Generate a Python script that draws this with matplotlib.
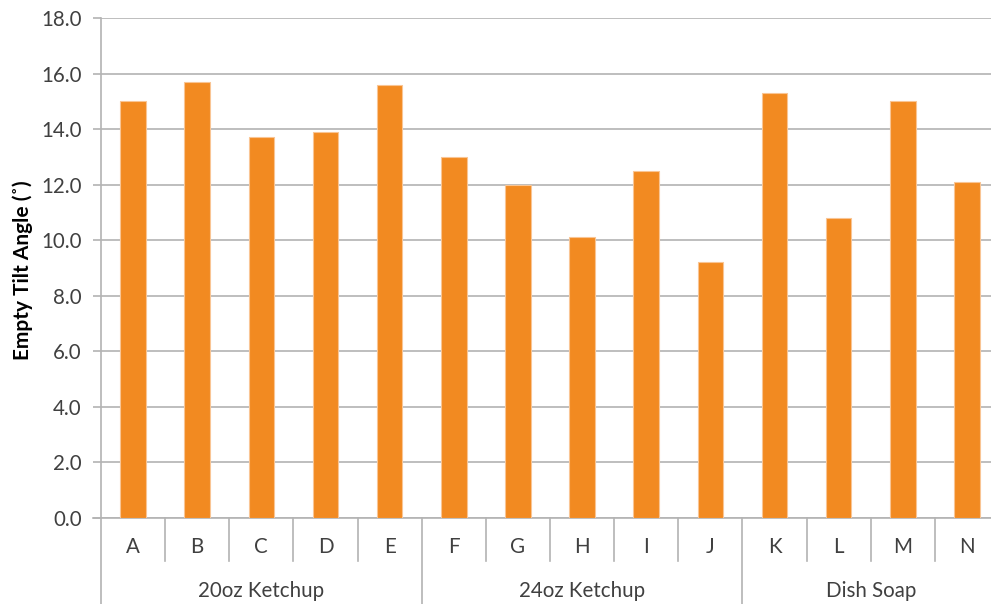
import matplotlib
matplotlib.use("Agg")
import matplotlib.pyplot as plt

# Data
labels = ["A", "B", "C", "D", "E", "F", "G", "H", "I", "J", "K", "L", "M", "N"]
values = [15.0, 15.7, 13.7, 13.9, 15.6, 13.0, 12.0, 10.1, 12.5, 9.2, 15.3, 10.8, 15.0, 12.1]
groups = ["20oz Ketchup", "24oz Ketchup", "Dish Soap"]
group_sizes = [5, 5, 4]

plt.rcParams["font.family"] = ["Lato", "DejaVu Sans"]

bar_color = "#F28A21"
line_color = "#B3B3B3"
text_color = "#404040"
fs = 14.8

fig = plt.figure(figsize=(9.91, 6.04), dpi=100, facecolor="white")
# axes runs a little past the right edge, as in the cropped original
ax = fig.add_axes([101 / 991, 1 - 518 / 604, 898 / 991, 500 / 604])

x = list(range(len(labels)))
ax.bar(x, values, width=0.4, color=bar_color, edgecolor="#F9C594", linewidth=0.8, zorder=3)

ax.set_xlim(-0.5, len(labels) - 0.5)
ax.set_ylim(0, 18)
ax.set_yticks([i * 2 for i in range(10)])
ax.set_yticklabels(["%.1f" % (i * 2) for i in range(10)], fontsize=fs, color=text_color)
ax.yaxis.grid(True, color=line_color, linewidth=1.2, zorder=0)
ax.tick_params(axis="y", length=6, width=1.2, color=line_color, pad=8)
ax.set_xticks([])

for side in ["top", "right", "bottom"]:
    ax.spines[side].set_visible(False)
ax.spines["left"].set_color(line_color)
ax.spines["left"].set_linewidth(1.2)

ax.set_ylabel("Empty Tilt Angle (˚)", fontsize=15, fontweight="bold")
ax.yaxis.set_label_coords(-0.076, 0.496)

trans = ax.get_xaxis_transform()
# category axis line, sticking out a bit on the left
ax.plot([-0.62, len(labels) - 0.5], [0, 0], color=line_color, lw=1.2, transform=trans, clip_on=False)

# category separators and letters
group_edges = [-0.5]
for n in group_sizes:
    group_edges.append(group_edges[-1] + n)
for k in range(len(labels) + 1):
    edge = k - 0.5
    depth = -0.172 if edge in group_edges else -0.086
    ax.plot([edge, edge], [0, depth], color=line_color, lw=1.2, transform=trans, clip_on=False)
for xi, lab in zip(x, labels):
    ax.text(xi, -0.058, lab, transform=trans, ha="center", va="center", fontsize=fs, color=text_color)

# group labels
for g, lo, hi in zip(groups, group_edges[:-1], group_edges[1:]):
    ax.text((lo + hi) / 2, -0.146, g, transform=trans, ha="center", va="center", fontsize=fs, color=text_color)

fig.savefig("out.png", dpi=100, facecolor="white")
